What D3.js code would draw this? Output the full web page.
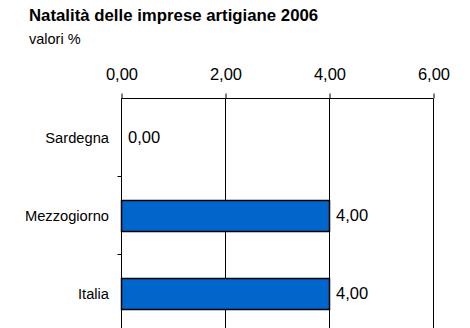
<!DOCTYPE html>
<html>
<head>
<meta charset="utf-8">
<script src="https://cdn.jsdelivr.net/npm/d3@7"></script>
<style>
  html, body { margin: 0; padding: 0; background: #fff; }
  svg { display: block; font-family: "Liberation Sans", Arial, sans-serif; }
</style>
</head>
<body>
<svg id="chart" width="470" height="328"></svg>
<script>
const categories = ["Sardegna", "Mezzogiorno", "Italia"];
const values = [0.00, 4.00, 4.00];
const tickValues = [0, 2, 4, 6];

const fmt = v => v.toFixed(2).replace(".", ",");

const svg = d3.select("#chart");
const plotLeft = 121.5, plotRight = 433.5, plotTop = 98.5, plotBottom = 332.5;

const x = d3.scaleLinear().domain([0, 6]).range([plotLeft, plotRight]);
const yb = d3.scaleBand().domain(categories).range([plotTop, plotBottom]);
const rows = categories.map((c, i) => ({ c, v: values[i] }));

// Title
svg.append("text").attr("x", 29).attr("y", 21)
  .attr("font-size", 16.8).attr("font-weight", "bold").attr("fill", "#000")
  .text("Natalità delle imprese artigiane 2006");
svg.append("text").attr("x", 29).attr("y", 43.5)
  .attr("font-size", 14.5).attr("fill", "#000").text("valori %");

// Vertical gridlines
svg.append("g").selectAll("line").data(tickValues.slice(1)).join("line")
  .attr("x1", d => x(d)).attr("x2", d => x(d))
  .attr("y1", plotTop).attr("y2", 328)
  .attr("stroke", "#000").attr("stroke-width", 1);

// Top axis
const xAxis = d3.axisTop(x).tickValues(tickValues).tickFormat(fmt).tickSize(5).tickPadding(14);
const gx = svg.append("g").attr("transform", `translate(0,${plotTop})`).call(xAxis);
gx.select(".domain").attr("stroke", "#000").attr("d", `M${plotLeft},0H${plotRight}`);
gx.selectAll(".tick line").attr("stroke", "#000");
gx.selectAll(".tick text").attr("font-size", 16.5).attr("fill", "#000")
  .attr("font-family", "'Liberation Sans', Arial, sans-serif");

// Left axis line with category boundary ticks
svg.append("line").attr("x1", plotLeft).attr("x2", plotLeft).attr("y1", plotTop).attr("y2", 328)
  .attr("stroke", "#000");
svg.append("g").selectAll("line").data(categories.slice(1)).join("line")
  .attr("x1", plotLeft - 4).attr("x2", plotLeft)
  .attr("y1", d => yb(d)).attr("y2", d => yb(d))
  .attr("stroke", "#000");

// Category labels
svg.append("g").selectAll("text").data(categories).join("text")
  .attr("x", 109).attr("y", d => yb(d) + yb.bandwidth() / 2)
  .attr("dy", "0.35em").attr("text-anchor", "end")
  .attr("font-size", 14.7).attr("fill", "#000").text(d => d);

// Bars
const barH = 31;
svg.append("g").selectAll("rect").data(rows.filter(r => r.v > 0)).join("rect")
  .attr("x", x(0)).attr("width", d => x(d.v) - x(0))
  .attr("y", d => yb(d.c) + yb.bandwidth() / 2 - barH / 2 + 0.5).attr("height", barH)
  .attr("fill", "#0066CC").attr("stroke", "#000").attr("stroke-width", 1.5);

// Value labels
svg.append("g").selectAll("text").data(rows).join("text")
  .attr("x", d => x(d.v) + 6.5)
  .attr("y", d => yb(d.c) + yb.bandwidth() / 2)
  .attr("dy", "0.35em")
  .attr("font-size", 16.5).attr("fill", "#000").text(d => fmt(d.v));
</script>
</body>
</html>
